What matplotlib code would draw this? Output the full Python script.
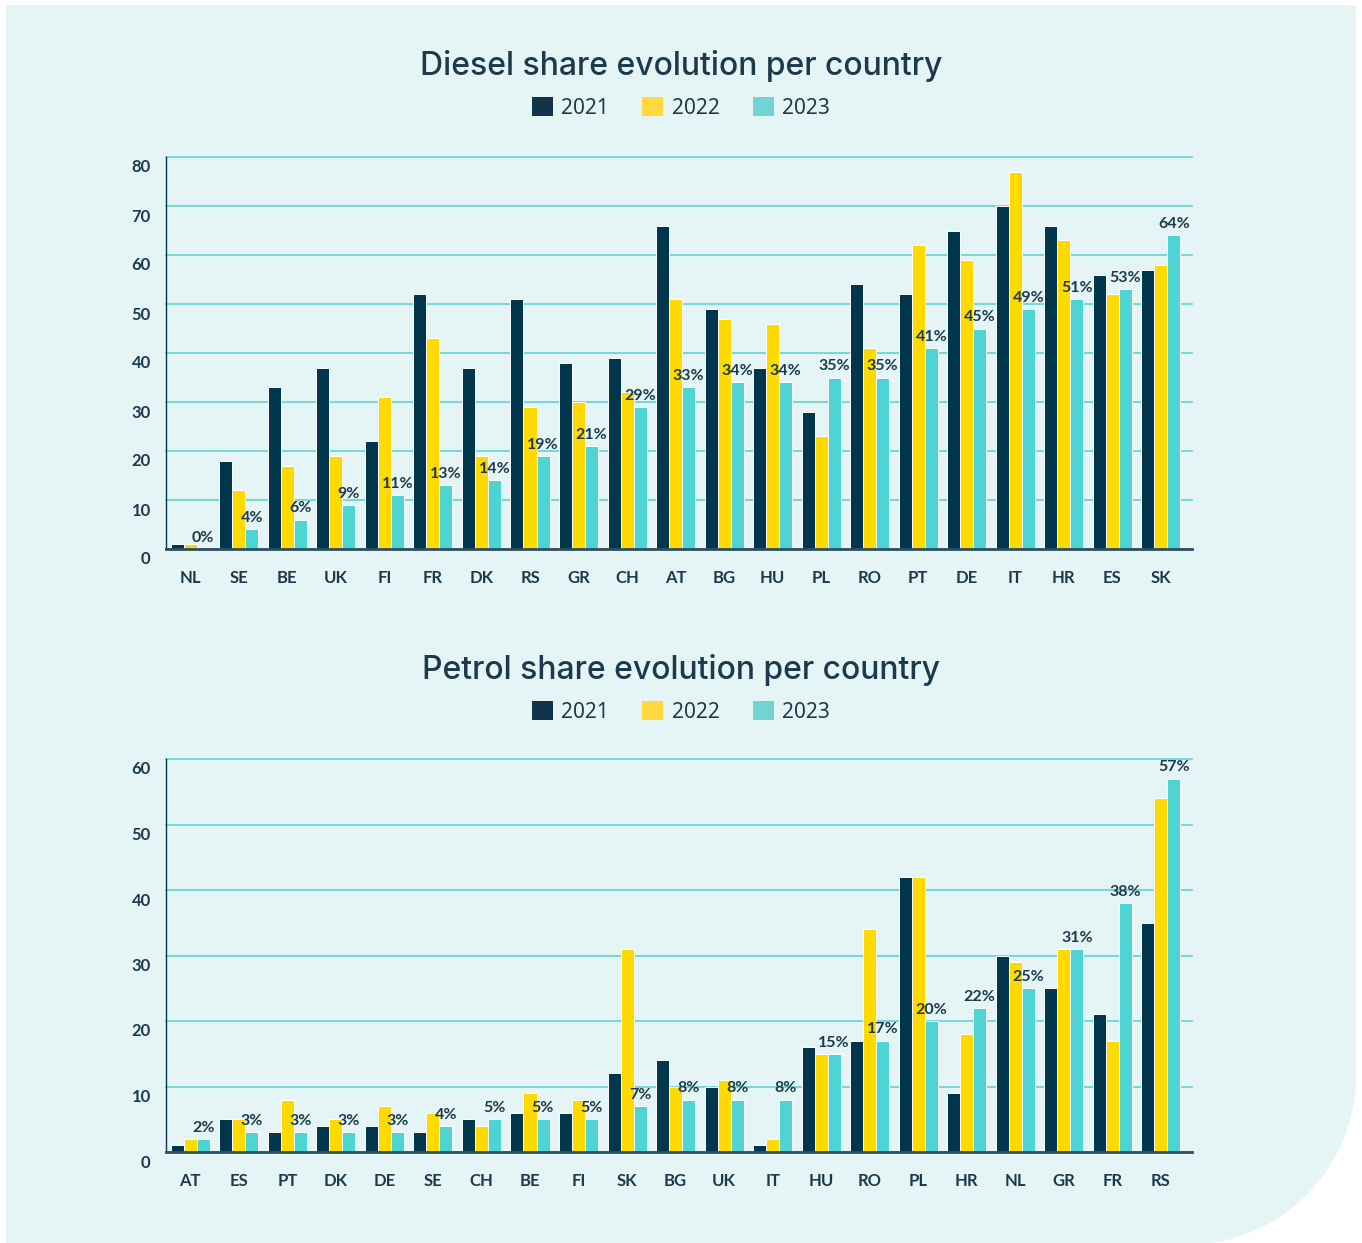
import numpy as np
import matplotlib
matplotlib.use('Agg')
import matplotlib.pyplot as plt
from matplotlib.patches import Rectangle, Circle, Patch
from matplotlib.transforms import ScaledTranslation

years = ['2021', '2022', '2023']

diesel_countries = ['NL', 'SE', 'BE', 'UK', 'FI', 'FR', 'DK', 'RS', 'GR', 'CH', 'AT',
                    'BG', 'HU', 'PL', 'RO', 'PT', 'DE', 'IT', 'HR', 'ES', 'SK']
diesel_2021 = [1, 18, 33, 37, 22, 52, 37, 51, 38, 39, 66, 49, 37, 28, 54, 52, 65, 70, 66, 56, 57]
diesel_2022 = [1, 12, 17, 19, 31, 43, 19, 29, 30, 32, 51, 47, 46, 23, 41, 62, 59, 77, 63, 52, 58]
diesel_2023 = [0, 4, 6, 9, 11, 13, 14, 19, 21, 29, 33, 34, 34, 35, 35, 41, 45, 49, 51, 53, 64]

petrol_countries = ['AT', 'ES', 'PT', 'DK', 'DE', 'SE', 'CH', 'BE', 'FI', 'SK', 'BG',
                    'UK', 'IT', 'HU', 'RO', 'PL', 'HR', 'NL', 'GR', 'FR', 'RS']
petrol_2021 = [1, 5, 3, 4, 4, 3, 5, 6, 6, 12, 14, 10, 1, 16, 17, 42, 9, 30, 25, 21, 35]
petrol_2022 = [2, 5, 8, 5, 7, 6, 4, 9, 8, 31, 10, 11, 2, 15, 34, 42, 18, 29, 31, 17, 54]
petrol_2023 = [2, 3, 3, 3, 3, 4, 5, 5, 5, 7, 8, 8, 8, 15, 17, 20, 22, 25, 31, 38, 57]

navy = '#01364C'
yellow = '#FFDA00'
teal = '#4FD4D4'
text_col = '#1B3B4D'
grid_col = '#62D3D3'
panel_col = '#E5F5F5'

plt.rcParams['font.family'] = ['Noto Sans', 'DejaVu Sans']
bold_font = ['Lato', 'DejaVu Sans']

W, H = 1362, 1243
fig = plt.figure(figsize=(W / 100, H / 100), dpi=100)
fig.patch.set_facecolor('white')


def px(x, y):
    # pixel position (from top left) -> inches for dpi_scale_trans
    return x / 100, (H - y) / 100


# light panel behind both charts, bottom right corner rounded
r = 170
p_left, p_top, p_right, p_bottom = 6, 5, 1356, 1245
fig.patches.append(Rectangle(px(p_left, p_bottom), (p_right - p_left) / 100, (p_bottom - p_top) / 100,
                             transform=fig.dpi_scale_trans, facecolor=panel_col, lw=0, zorder=-3))
fig.patches.append(Rectangle(px(p_right - r, p_bottom), r / 100, r / 100,
                             transform=fig.dpi_scale_trans, facecolor='white', lw=0, zorder=-2))
fig.patches.append(Circle(px(p_right - r, p_bottom - r), r / 100,
                          transform=fig.dpi_scale_trans, facecolor=panel_col, lw=0, zorder=-1))

legend_handles = [Patch(facecolor=c, edgecolor='none') for c in ['#12344A', '#FFD93D', '#72D4D2']]


def draw_chart(top_px, bottom_px, title, title_y, leg_y, countries, v21, v22, v23, ymax):
    ax = fig.add_axes([166 / W, 1 - bottom_px / H, (1192 - 166) / W, (bottom_px - top_px) / H])
    ax.set_facecolor('none')
    x = np.arange(len(countries))
    w = 0.268
    for i, (vals, col) in enumerate(zip([v21, v22, v23], [navy, yellow, teal])):
        ax.bar(x + (i - 1) * w, vals, w, color=col, edgecolor='white', linewidth=0.7, zorder=3)
    for xi, v in zip(x, v23):
        ax.annotate(f'{v}%', (xi + w, v), xytext=(0, 3), textcoords='offset points',
                    ha='center', va='bottom', fontsize=11.5, fontweight='bold',
                    family=bold_font, color=text_col, zorder=4)

    ax.set_xlim(-0.5, len(countries) - 0.36)
    ax.set_ylim(0, ymax)
    ax.set_yticks(range(0, ymax + 1, 10))
    ax.set_xticks(x)
    ax.set_xticklabels(countries)
    ax.yaxis.grid(True, color=grid_col, lw=1.2)
    for gl in ax.get_ygridlines():
        gl.set_clip_on(False)
    ax.set_axisbelow(True)

    for s in ['top', 'right']:
        ax.spines[s].set_visible(False)
    ax.spines['left'].set_color(navy)
    ax.spines['left'].set_linewidth(1)
    ax.spines['bottom'].set_color('#2D5061')
    ax.spines['bottom'].set_linewidth(2)
    ax.spines['bottom'].set_zorder(5)

    ax.tick_params(axis='both', length=0, labelsize=12, labelcolor=text_col)
    ax.tick_params(axis='x', pad=15)
    ax.tick_params(axis='y', pad=11)
    for lab in ax.get_xticklabels() + ax.get_yticklabels():
        lab.set_fontweight('bold')
        lab.set_family(bold_font)
    for lab in ax.get_yticklabels():
        lab.set_transform(lab.get_transform() + ScaledTranslation(0, -0.09, fig.dpi_scale_trans))

    fig.text(0.5, title_y, title, ha='center', va='center', fontsize=23, fontweight='medium',
             family=['Inter', 'DejaVu Sans'], color=text_col)
    fig.legend(legend_handles, years, loc='center', bbox_to_anchor=(0.5, leg_y), ncol=3,
               frameon=False, fontsize=15, handlelength=1.0, handleheight=1.0,
               handletextpad=0.4, columnspacing=1.6, labelcolor=text_col)
    return ax


draw_chart(157, 549, 'Diesel share evolution per country', 1 - 66 / H, 1 - 108 / H,
           diesel_countries, diesel_2021, diesel_2022, diesel_2023, 80)
draw_chart(759, 1152, 'Petrol share evolution per country', 1 - 670 / H, 1 - 712 / H,
           petrol_countries, petrol_2021, petrol_2022, petrol_2023, 60)

fig.savefig('out.png', dpi=100)
